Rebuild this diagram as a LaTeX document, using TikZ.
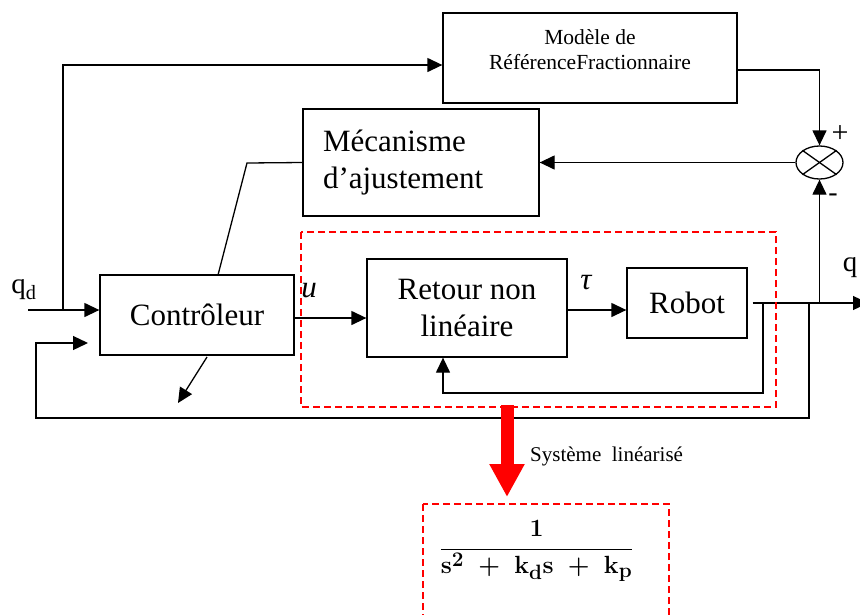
\documentclass[tikz,border=0pt]{standalone}
\usepackage{fontspec}
\setmainfont{Liberation Serif}
\usetikzlibrary{arrows.meta,shapes.geometric}
\tikzset{
  blk/.style={draw, line width=1.3pt, align=center, inner sep=0pt, font=\fontsize{31}{37}\selectfont},
  arr/.style={-{Triangle[length=15pt,width=14pt]}, line width=1.3pt},
  wire/.style={line width=1.3pt},
  dashbox/.style={draw=red, line width=1.3pt, dash pattern=on 7pt off 4pt},
  lbl/.style={inner sep=0pt, font=\fontsize{29}{34}\selectfont},
}
\begin{document}
\begin{tikzpicture}[x=1pt,y=-1pt]
  \useasboundingbox (0,0) rectangle (860,614);
  \clip (0,0) rectangle (860,614);

  \node[blk, minimum width=294pt, minimum height=90pt, font=\fontsize{21.5}{25}\selectfont] (modele) at (590,58) {Modèle de\\RéférenceFractionnaire\\[-9pt]\mbox{}};
  \node[blk, minimum width=236pt, minimum height=107pt, text width=196pt, inner xsep=20pt, align=left] (meca) at (421,162.5) {Mécanisme\\d’ajustement};
  \node[blk, minimum width=194pt, minimum height=80pt] (ctrl) at (197,315) {Contrôleur};
  \node[blk, minimum width=200pt, minimum height=98pt] (retour) at (467,308) {Retour non\\linéaire};
  \node[blk, minimum width=120pt, minimum height=70pt] (robot) at (687,303) {Robot};
  \node[draw, ellipse, line width=1.3pt, minimum width=47pt, minimum height=33pt, inner sep=0pt] (sum) at (819.5,162.5) {};
  \draw[wire] (sum.north west) -- (sum.south east);
  \draw[wire] (sum.north east) -- (sum.south west);

  \node[lbl] (qd) at (24,290) {q\textsubscript{d}};
  \node[lbl] (qout) at (850,268) {q};
  \node[lbl, font=\fontsize{31}{34}\selectfont\itshape] (u) at (309,291) {u};
  \node[lbl, font=\fontsize{31}{34}\selectfont\itshape] (tau) at (586,283) {τ};
  \node[lbl, font=\fontsize{30}{34}\selectfont] (plus) at (840,134) {+};
  \node[lbl, font=\fontsize{28}{30}\selectfont] (moins) at (833,198) {-};

  % entree et modele de reference
  \coordinate (in) at (28,310);
  \coordinate (jq) at (63,310);
  \draw[arr] (in) -- (in -| ctrl.west);
  \draw[arr] (jq) |- ([yshift=-7pt]modele.west);
  \draw[arr] ([yshift=-12pt]modele.east) -| (sum.north);

  % boucle d'adaptation
  \coordinate (mk) at (247,163);
  \coordinate (mc) at (218,275);
  \draw[arr] (sum.west) -- (meca.east);
  \draw[wire] (meca.west) -- (mk) -- (mc);
  \coordinate (cs) at (207,357);
  \coordinate (ct) at (178,403);
  \draw[arr] (cs) -- (ct);

  % chaine directe
  \draw[arr] ([yshift=-3pt]ctrl.east) -- ([yshift=-3pt]ctrl.east -| retour.west);
  \draw[arr] ([yshift=-2pt]retour.east) -- ([yshift=-2pt]retour.east -| robot.west);
  \coordinate (out) at (868,303);
  \draw[arr] ([xshift=5pt]robot.east) -- (out);

  % retours
  \coordinate (fa) at (763,303);
  \coordinate (fab) at (443,393);
  \draw[arr] (fa) |- (fab) -- (fab |- retour.south);
  \coordinate (fb) at (809,303);
  \coordinate (fbb) at (36,418);
  \coordinate (fbin) at (88,343);
  \draw[arr] (fb) |- (fbb) |- (fbin);
  \draw[arr] (sum.south |- robot.east) -- (sum.south);

  % systeme linearise
  \draw[dashbox] (301,232) rectangle (776,407);
  \coordinate (rs) at (507,405);
  \coordinate (re) at (507,497);
  \draw[red, line width=13pt, -{Triangle[length=33pt,width=33pt]}] (rs) -- (re);
  \node[anchor=west, inner sep=0pt, font=\fontsize{21}{25}\selectfont] (sl) at (530,456) {Système\ \ linéarisé};
  \draw[dashbox] (423,504) rectangle (669,640);
  \node[inner sep=0pt, font=\fontsize{31}{36}\selectfont\boldmath] (tf) at (536.5,551) {$\displaystyle\frac{\mathbf{1}}{\mathbf{s}^{\mathbf{2}}\;+\;\mathbf{k}_{\mathbf{d}}\mathbf{s}\;+\;\mathbf{k}_{\mathbf{p}}}$};
\end{tikzpicture}
\end{document}
